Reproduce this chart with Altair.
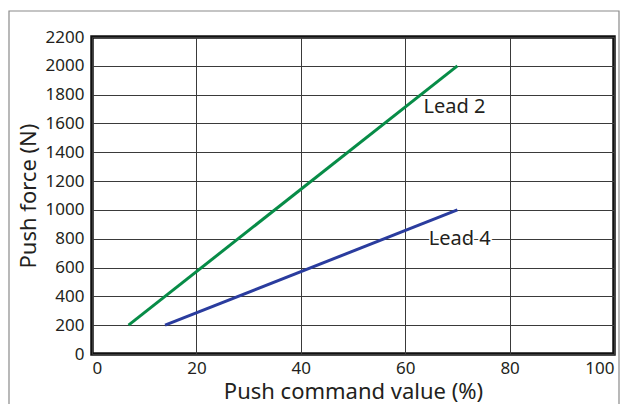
import altair as alt
import pandas as pd

series = ["Lead 2", "Lead 2", "Lead 4", "Lead 4"]
cmd = [7, 70, 14, 70]
force = [200, 2000, 200, 1000]
label_text = ["Lead 2", "Lead 4"]
label_x = [63.5, 64.5]
label_y = [1715, 800]
colors = ["#078c47", "#2a3c9e"]
x_ticks = [0, 20, 40, 60, 80, 100]
y_ticks = [0, 200, 400, 600, 800, 1000, 1200, 1400, 1600, 1800, 2000, 2200]

df = pd.DataFrame({"series": series, "cmd": cmd, "force": force})
lab = pd.DataFrame({"t": label_text, "cmd": label_x, "force": label_y})

FONT = "Noto Sans"
xs = alt.Scale(domain=[0, 100], nice=False)
ys = alt.Scale(domain=[0, 2200], nice=False)

x = alt.X("cmd:Q", scale=xs,
          axis=alt.Axis(values=x_ticks, title="Push command value (%)", format="d",
                        labelOverlap=False, labelPadding=6, titlePadding=5))
y = alt.Y("force:Q", scale=ys,
          axis=alt.Axis(values=y_ticks, title="Push force (N)", format="d",
                        labelOverlap=False, labelPadding=8, titlePadding=5))

lines = alt.Chart(df).mark_line(strokeWidth=3, clip=False).encode(
    x=x, y=y,
    color=alt.Color("series:N", scale=alt.Scale(domain=["Lead 2", "Lead 4"], range=colors), legend=None),
)

texts = alt.Chart(lab).mark_text(
    align="left", baseline="middle", fontSize=20, font=FONT, color="#231f20"
).encode(x=x, y=y, text="t:N")

halo = alt.Chart(lab).transform_filter(alt.datum.t == "Lead 4").mark_text(
    align="left", baseline="middle", fontSize=20, font=FONT, color="white",
    stroke="white", strokeWidth=3
).encode(x=x, y=y, text="t:N")

frame = alt.Chart(pd.DataFrame({"a": [0]})).mark_rect(
    fill=None, stroke="#8a8a8a", strokeWidth=1.2, clip=False
).encode(x=alt.value(-83), x2=alt.value(527), y=alt.value(-26), y2=alt.value(420))

chart = alt.layer(frame, lines, halo, texts).properties(
    width=522, height=317,
    autosize=alt.AutoSizeParams(type="none"),
    padding={"left": 84, "top": 29, "right": 6, "bottom": 50},
).configure_view(
    stroke="#111", strokeWidth=3.5
).configure_axis(
    grid=True, gridColor="#3a3a3a", gridWidth=1, gridOpacity=1,
    domain=False, ticks=False,
    labelFont=FONT, labelFontSize=17, labelColor="#231f20",
    titleFont=FONT, titleFontSize=22, titleFontWeight="normal", titleColor="#231f20",
)

chart.save("out.html", embed_options={"renderer": "svg", "actions": False})
